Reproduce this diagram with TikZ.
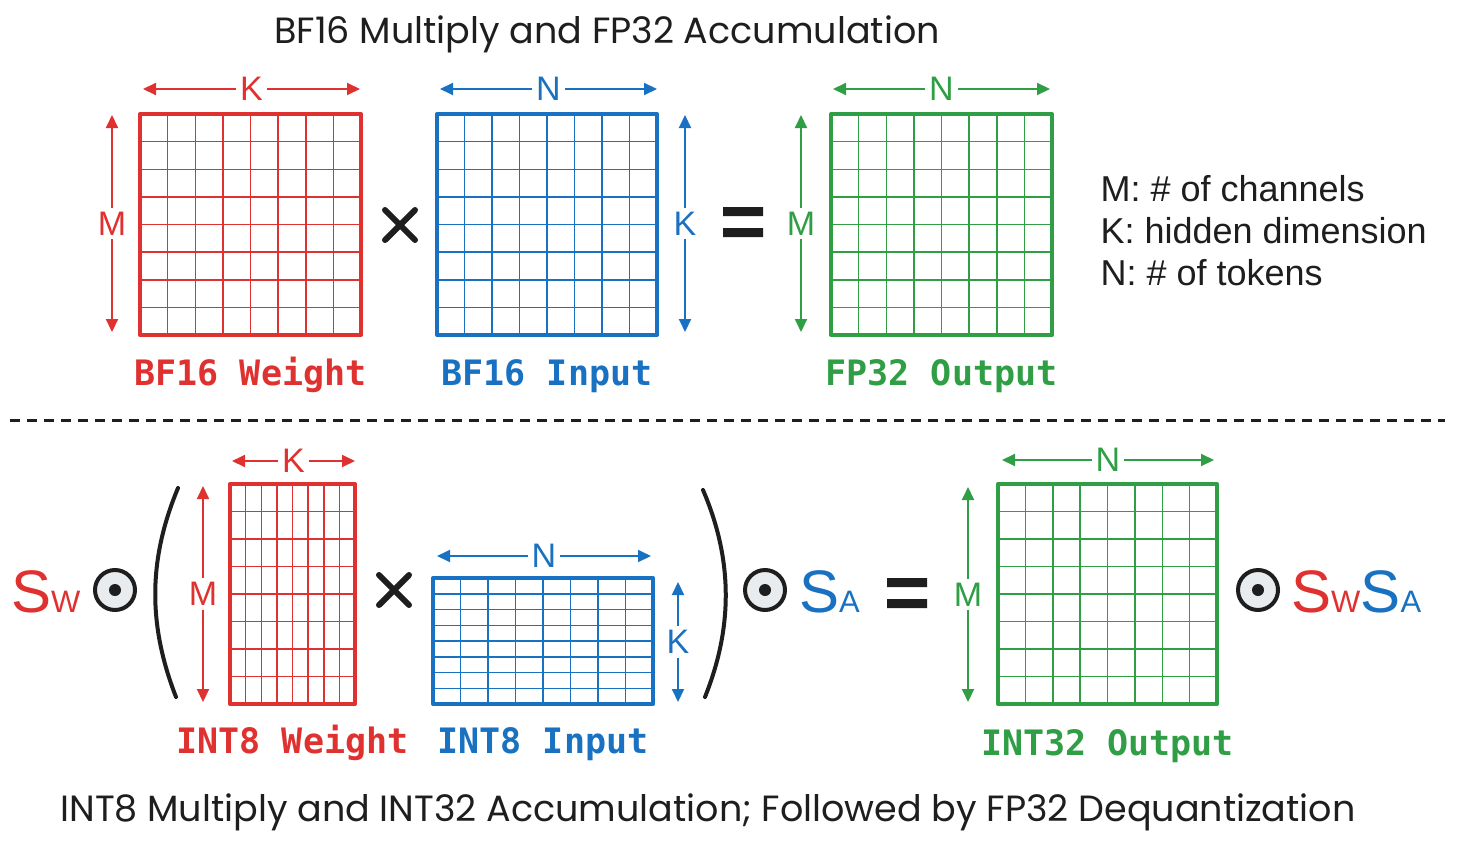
\documentclass[tikz,border=0pt]{standalone}
\usepackage{fontspec}
\setmainfont{Liberation Sans}
\setmonofont{DejaVu Sans Mono}
\newfontfamily\titlefont{Poppins}
\usetikzlibrary{arrows.meta, positioning, calc}

\definecolor{ored}{HTML}{E03131}
\definecolor{oblue}{HTML}{1971C2}
\definecolor{ogreen}{HTML}{2F9E44}
\definecolor{oblack}{HTML}{1E1E1E}
\definecolor{ogray}{HTML}{E9ECEF}

% matrix with an 8x8 grid: name, colour, centre, width, height
\newcommand{\gridmat}[5]{%
    \node[matbox, draw=#2, minimum width=#4pt, minimum height=#5pt] (#1) at #3 {};
    \foreach \i in {1,...,7} {
        \draw[gridline, #2] ($(#1.north west)!\i/8!(#1.north east)$) -- ($(#1.south west)!\i/8!(#1.south east)$);
        \draw[gridline, #2] ($(#1.north west)!\i/8!(#1.south west)$) -- ($(#1.north east)!\i/8!(#1.south east)$);
    }
}

\begin{document}
\begin{tikzpicture}[
            x = 1pt, y = -1pt, % one unit per pixel, y going down
            > = {Triangle[length=13pt, width=12pt]}, % arrow head style
            line join = round
        ]

        \tikzstyle{matbox}=[rectangle, line width=4pt, inner sep=0pt, outer sep=0pt]
        \tikzstyle{gridline}=[line width=1.5pt]
        \tikzstyle{dimarrow}=[<->, line width=2pt]
        \tikzstyle{dimlabel}=[fill=white, inner sep=4pt, font=\fontsize{34}{34}\selectfont]
        \tikzstyle{matlabel}=[anchor=base, font=\ttfamily\bfseries\fontsize{35}{35}\selectfont]
        \tikzstyle{opline}=[draw=oblack, line width=6pt, line cap=round]
        \tikzstyle{odot}=[circle, draw=oblack, fill=ogray, line width=4pt, minimum size=40pt, inner sep=0pt]
        \tikzstyle{paren}=[draw=oblack, line width=4pt, line cap=round]
        \tikzstyle{titletext}=[anchor=base, text=oblack, font=\titlefont\fontsize{36.5}{36.5}\selectfont]

        \fill[white] (0,0) rectangle (1458,843);
        \useasboundingbox (0,0) rectangle (1458,843);

        % BF16 part
        \node[titletext] (titleA) at (607,44) {BF16 Multiply and FP32 Accumulation};

        \gridmat{wA}{ored}{(250.5,224.5)}{221}{221}
        \gridmat{xA}{oblue}{(547,224.5)}{220}{221}
        \gridmat{yA}{ogreen}{(941.5,224.5)}{221}{221}

        \draw[dimarrow, ored] ($(wA.north west)+(3,-25)$) -- node[dimlabel]{K} ($(wA.north east)+(-1,-25)$);
        \draw[dimarrow, ored] ($(wA.north west)+(-28,1)$) -- node[dimlabel]{M} ($(wA.south west)+(-28,-3)$);
        \draw[dimarrow, oblue] ($(xA.north west)+(3,-25)$) -- node[dimlabel]{N} ($(xA.north east)+(0,-25)$);
        \draw[dimarrow, oblue] ($(xA.north east)+(28,1)$) -- node[dimlabel]{K} ($(xA.south east)+(28,-3)$);
        \draw[dimarrow, ogreen] ($(yA.north west)+(2,-25)$) -- node[dimlabel]{N} ($(yA.north east)+(-2,-25)$);
        \draw[dimarrow, ogreen] ($(yA.north west)+(-30,1)$) -- node[dimlabel]{M} ($(yA.south west)+(-30,-3)$);

        \node[matlabel, ored] (wAlbl) at ($(wA.south)+(0,50)$) {BF16 Weight};
        \node[matlabel, oblue] (xAlbl) at ($(xA.south)+(0,50)$) {BF16 Input};
        \node[matlabel, ogreen] (yAlbl) at ($(yA.south)+(0,50)$) {FP32 Output};

        \coordinate (mulA) at (400,225);
        \draw[opline] ($(mulA)+(-15,-15)$) -- ($(mulA)+(15,15)$) ($(mulA)+(-15,15)$) -- ($(mulA)+(15,-15)$);
        \coordinate (eqA) at (743,222);
        \fill[oblack] ($(eqA)+(-20,-15)$) rectangle ($(eqA)+(20,-6)$) ($(eqA)+(-20,6)$) rectangle ($(eqA)+(20,15)$);

        \node[anchor=west, align=left, text=oblack, font=\fontsize{36}{42}\selectfont] (legend) at (1097,231)
            {M: \# of channels\\K: hidden dimension\\N: \# of tokens};

        \draw[oblack, line width=3pt, dash pattern=on 10pt off 7pt] (10,420) -- (1445,420);

        % INT8 part
        \node[anchor=base west, inner sep=0pt, text=ored] (sw) at (11,612)
            {\fontsize{60}{60}\selectfont S\fontsize{31}{31}\selectfont W};
        \node[odot] (dotW) at (115,590) {};
        \fill[oblack] (dotW) circle (6);
        \draw[paren] (178,488) .. controls (148,560) and (148,625) .. (176,697);

        \gridmat{wB}{ored}{(292.5,594)}{125}{220}
        \gridmat{xB}{oblue}{(543,641)}{220}{126}
        \gridmat{yB}{ogreen}{(1107.5,594)}{219}{220}

        \draw[dimarrow, ored] ($(wB.north west)+(2,-23)$) -- node[dimlabel]{K} ($(wB.north east)+(0,-23)$);
        \draw[dimarrow, ored] ($(wB.north west)+(-27,2)$) -- node[dimlabel]{M} ($(wB.south west)+(-27,-2)$);
        \draw[dimarrow, oblue] ($(xB.north west)+(4,-22)$) -- node[dimlabel]{N} ($(xB.north east)+(-2,-22)$);
        \draw[dimarrow, oblue] ($(xB.north east)+(25,4)$) -- node[dimlabel]{K} ($(xB.south east)+(25,-2)$);
        \draw[dimarrow, ogreen] ($(yB.north west)+(4,-24)$) -- node[dimlabel]{N} ($(yB.north east)+(-3,-24)$);
        \draw[dimarrow, ogreen] ($(yB.north west)+(-30,3)$) -- node[dimlabel]{M} ($(yB.south west)+(-30,-2)$);

        \node[matlabel, ored] (wBlbl) at ($(wB.south)+(0,49)$) {INT8 Weight};
        \node[matlabel, oblue] (xBlbl) at ($(xB.south)+(0,49)$) {INT8 Input};
        \node[matlabel, ogreen] (yBlbl) at ($(yB.south)+(0,51)$) {INT32 Output};

        \coordinate (mulB) at (394,590);
        \draw[opline] ($(mulB)+(-15,-15)$) -- ($(mulB)+(15,15)$) ($(mulB)+(-15,15)$) -- ($(mulB)+(15,-15)$);
        \draw[paren] (703,490) .. controls (733,560) and (733,627) .. (705,697);

        \node[odot] (dotA) at (765,590) {};
        \fill[oblack] (dotA) circle (6);
        \node[anchor=base west, inner sep=0pt, text=oblue] (sa) at (799,612)
            {\fontsize{60}{60}\selectfont S\fontsize{31}{31}\selectfont A};

        \coordinate (eqB) at (907,593);
        \fill[oblack] ($(eqB)+(-20,-15)$) rectangle ($(eqB)+(20,-6)$) ($(eqB)+(-20,6)$) rectangle ($(eqB)+(20,15)$);

        \node[odot] (dotWA) at (1258,590) {};
        \fill[oblack] (dotWA) circle (6);
        \node[anchor=base west, inner sep=0pt] (swsa) at (1291,612)
            {\fontsize{60}{60}\selectfont\color{ored}S\fontsize{31}{31}\selectfont W%
             \fontsize{60}{60}\selectfont\color{oblue}S\fontsize{31}{31}\selectfont A};

        \node[titletext] (titleB) at (708,821) {INT8 Multiply and INT32 Accumulation; Followed by FP32 Dequantization};
    \end{tikzpicture}
\end{document}
